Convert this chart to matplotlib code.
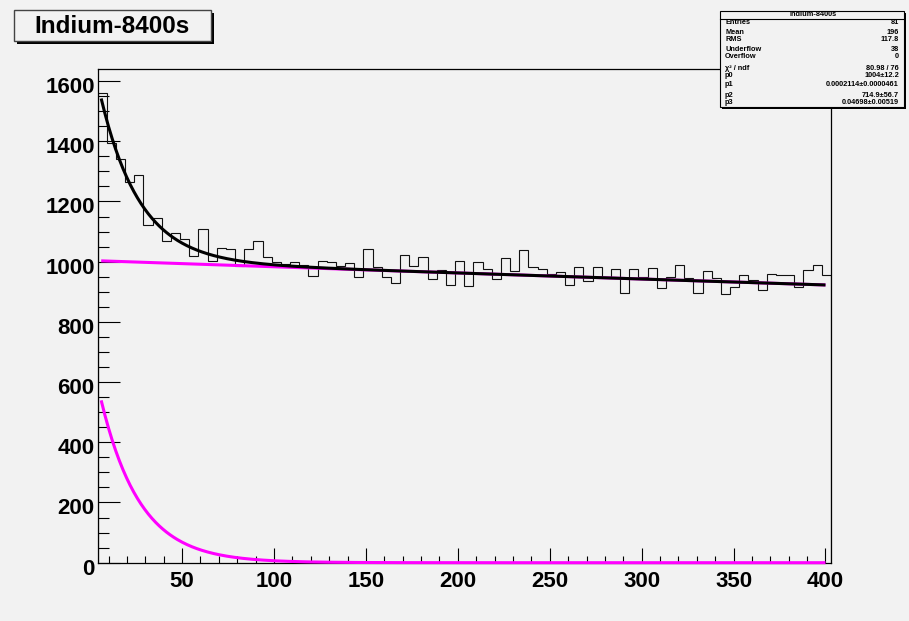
import numpy as np
import matplotlib
matplotlib.use('Agg')
import matplotlib.pyplot as plt
from matplotlib.patches import Rectangle
from matplotlib.transforms import ScaledTranslation

# ---------------- data ----------------
counts = [1561, 1393, 1340, 1264, 1288, 1122, 1144, 1070, 1094, 1074,
          1020, 1108, 1001, 1045, 1042, 985, 1042, 1070, 1017, 1000,
          993, 1000, 990, 952, 1003, 1000, 985, 997, 948, 1043,
          982, 950, 928, 1021, 987, 1017, 941, 972, 921, 1001,
          918, 998, 974, 941, 1013, 970, 1039, 983, 975, 959,
          967, 922, 982, 937, 982, 950, 977, 895, 977, 950,
          978, 914, 950, 988, 945, 895, 969, 945, 893, 915,
          957, 939, 906, 960, 955, 955, 917, 972, 989, 956]
x_low, x_high = 4.0, 403.0
y_max = 1640
fit_lo, fit_hi = 6.0, 400.0
p0, p1, p2, p3 = 1004.0, 0.0002114, 714.9, 0.04698

x_ticks = [50, 100, 150, 200, 250, 300, 350, 400]
y_ticks = [0, 200, 400, 600, 800, 1000, 1200, 1400, 1600]

title = "Indium-8400s"
stats_labels = ["Entries", "Mean", "RMS", "Underflow", "Overflow",
                "\u03c7\u00b2 / ndf", "p0", "p1", "p2", "p3"]
stats_values = ["81", "196", "117.8", "38", "0", "80.98 / 76",
                "1004\u00b112.2", "0.0002114\u00b10.0000461",
                "714.9\u00b156.7", "0.04698\u00b10.00519"]
stats_rows_y = [22.9, 32.5, 39.5, 49.8, 57.0, 68.3, 75.3, 84.0, 95.3, 102.0]

# ---------------- figure ----------------
W, H = 909, 621
BG = '#f2f2f2'
fig = plt.figure(figsize=(W / 100, H / 100), dpi=100)
fig.patch.set_facecolor(BG)

def fx(px):
    return px / W

def fy(py):
    return 1 - py / H

FONT = 'Liberation Sans'

ax_l, ax_r, ax_t, ax_b = 97.5, 831.0, 69.0, 562.7
ax = fig.add_axes([fx(ax_l), fy(ax_b), (ax_r - ax_l) / W, (ax_b - ax_t) / H])
ax.set_facecolor(BG)

edges = np.linspace(x_low, x_high, len(counts) + 1)
ax.stairs(counts, edges, baseline=0, color='#111111', lw=0.8, fill=False, zorder=2)

xs = np.linspace(fit_lo, fit_hi, 600)
bkg = p0 * np.exp(-p1 * xs)
dec = p2 * np.exp(-p3 * xs)
ax.plot(xs, bkg, color='#ff00ff', lw=2.2, zorder=3, solid_capstyle='butt')
ax.plot(xs, dec, color='#ff00ff', lw=2.2, zorder=3, clip_on=False, solid_capstyle='butt')
ax.plot(xs, bkg + dec, color='black', lw=2.2, zorder=4, solid_capstyle='butt')

ax.set_xlim(x_low, x_high)
ax.set_ylim(0, y_max)
ax.set_xticks(x_ticks)
ax.set_yticks(y_ticks)
ax.set_xticks(np.arange(10, 401, 10), minor=True)
ax.set_yticks(np.arange(50, y_max, 50), minor=True)

for s in ax.spines.values():
    s.set_linewidth(0.9)
    s.set_color('black')

ax.tick_params(axis='x', which='major', direction='in', length=10.8, width=0.8,
               pad=6, labelsize=16, top=False)
ax.tick_params(axis='x', which='minor', direction='in', length=5.4, width=0.8, top=False)
ax.tick_params(axis='y', which='major', direction='in', length=15.8, width=0.8,
               pad=2, labelsize=16, right=False)
ax.tick_params(axis='y', which='minor', direction='in', length=7.9, width=0.8, right=False)

for lab in ax.get_xticklabels() + ax.get_yticklabels():
    lab.set_fontfamily(FONT)
    lab.set_fontweight('bold')
off = ScaledTranslation(0, -4 / 100, fig.dpi_scale_trans)
for lab in ax.get_yticklabels():
    lab.set_transform(lab.get_transform() + off)

# ---------------- title box ----------------
def box(x0, y0, x1, y1, shadow=2.5, edge='#444444', lw=1.0, z=10):
    fig.patches.append(Rectangle((fx(x0 + shadow), fy(y1 + shadow)),
                                 (x1 - x0) / W, (y1 - y0) / H,
                                 transform=fig.transFigure, facecolor='black',
                                 edgecolor='black', lw=0, zorder=z))
    fig.patches.append(Rectangle((fx(x0), fy(y1)), (x1 - x0) / W, (y1 - y0) / H,
                                 transform=fig.transFigure, facecolor=BG,
                                 edgecolor=edge, lw=lw, zorder=z + 1))

box(14, 10, 211, 41)
fig.text(fx(112.5), fy(26.5), title, ha='center', va='center', fontsize=17.5,
         fontweight='bold', family=FONT, zorder=20)

# ---------------- stats box ----------------
box(720, 11, 904, 107, shadow=2, edge='black', lw=0.8)
fig.add_artist(plt.Line2D([fx(720), fx(904)], [fy(18.7), fy(18.7)],
                          transform=fig.transFigure, color='black', lw=0.8, zorder=15))
fig.text(fx(813), fy(14.7), title, ha='center', va='center', fontsize=5.3,
         fontweight='bold', family=FONT, zorder=20)
for lab, val, yy in zip(stats_labels, stats_values, stats_rows_y):
    fig.text(fx(725), fy(yy), lab, ha='left', va='center', fontsize=5.3,
             fontweight='bold', family=FONT, zorder=20)
    fig.text(fx(899), fy(yy), val, ha='right', va='center', fontsize=5.3,
             fontweight='bold', family=FONT, zorder=20)

fig.savefig('out.png', dpi=100, facecolor=fig.get_facecolor())
